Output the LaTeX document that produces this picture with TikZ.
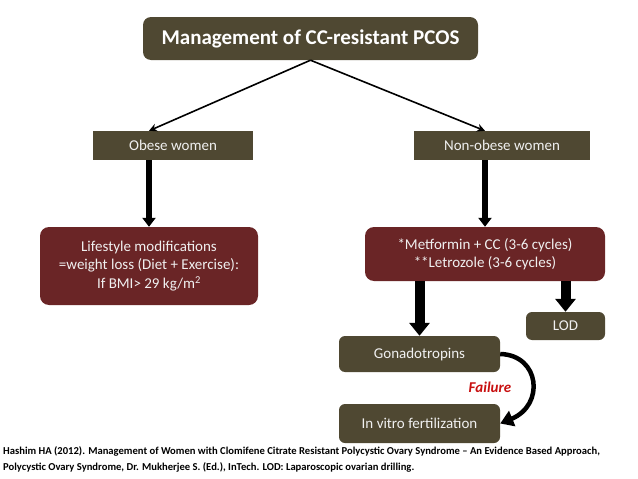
\documentclass[tikz,border=0pt]{standalone}
\usepackage{fontspec}
\setmainfont{Carlito}
\usepackage{xcolor}
\usepackage{tikz}
\usetikzlibrary{arrows.meta}
\usetikzlibrary{positioning}

\definecolor{olivebox}{RGB}{79,72,50}
\definecolor{wineBox}{RGB}{106,37,38}
\definecolor{failred}{RGB}{200,16,16}

\begin{document}
\begin{tikzpicture}[x=1pt,y=-1pt,
    oliveshape/.style={fill=olivebox,text=white!94!black,inner sep=0pt,align=center,font=\fontsize{15}{18.5}\selectfont},
    wineshape/.style={fill=wineBox,text=white!94!black,inner sep=0pt,align=center,rounded corners=9pt,font=\fontsize{15}{18.5}\selectfont},
    thinarrow/.style={line width=1.6pt,-{Stealth[length=8pt,width=8pt]}},
    blockarrow/.style={line width=10pt,-{Triangle[length=13pt,width=20pt]}},
    smallblock/.style={line width=6pt,-{Triangle[length=9pt,width=13pt]}}]

  % page frame
  \useasboundingbox (0,0) rectangle (638,479);

  % top level
  \node[oliveshape,rounded corners=8pt,minimum width=335pt,minimum height=43pt,
        font=\fontsize{21}{24}\selectfont\bfseries,text=white] (title) at (310.5,38.5)
        {Management of CC-resistant PCOS};

  % two groups
  \node[oliveshape,minimum width=160pt,minimum height=29pt] (obese) at (173,145.5) {Obese women};
  \node[oliveshape,minimum width=176pt,minimum height=29pt] (nonobese) at (502,145.5) {Non-obese women};

  % treatment boxes
  \node[wineshape,minimum width=218pt,minimum height=78pt] (lifestyle) at (149,266)
        {Lifestyle modifications\\=weight loss (Diet + Exercise):\\If BMI> 29 kg/m\textsuperscript{2}};
  \node[wineshape,minimum width=240pt,minimum height=54pt] (metformin) at (485,254)
        {*Metformin + CC (3-6 cycles)\\**Letrozole (3-6 cycles)};

  % later steps
  \node[oliveshape,rounded corners=6pt,minimum width=79pt,minimum height=28pt] (lod) at (565.5,326) {LOD};
  \node[oliveshape,rounded corners=6pt,minimum width=161pt,minimum height=36pt] (gonado) at (419.5,354) {Gonadotropins};
  \node[oliveshape,rounded corners=6pt,minimum width=161pt,minimum height=39pt] (ivf) at (419.5,423.5) {In vitro fertilization};

  \node[text=failred,font=\fontsize{15}{18}\selectfont\bfseries\itshape] (failure) at (490,387) {Failure};

  % connectors
  \draw[thinarrow] (title.south) -- (lifestyle |- obese.north);
  \draw[thinarrow] (title.south) -- (metformin |- nonobese.north);
  \draw[smallblock] (lifestyle |- obese.south) -- (lifestyle.north);
  \draw[smallblock] (metformin |- nonobese.south) -- (metformin.north);
  \draw[blockarrow] (gonado |- metformin.south) -- (gonado.north);
  \draw[blockarrow] (lod |- metformin.south) -- (lod.north);
  \draw[line width=4.5pt,-{Triangle[length=13pt,width=16pt]}]
       (gonado.east) .. controls (540,355) and (545,405) .. (ivf.east);

  % reference
  \node[anchor=north west,inner sep=0pt,align=left,font=\fontsize{10.6}{16}\selectfont\bfseries] (source) at (3,446)
       {Hashim HA (2012). Management of Women with Clomifene Citrate Resistant Polycystic Ovary Syndrome -- An Evidence Based Approach,\\
        Polycystic Ovary Syndrome, Dr. Mukherjee S. (Ed.), InTech. LOD: Laparoscopic ovarian drilling.};
\end{tikzpicture}
\end{document}
